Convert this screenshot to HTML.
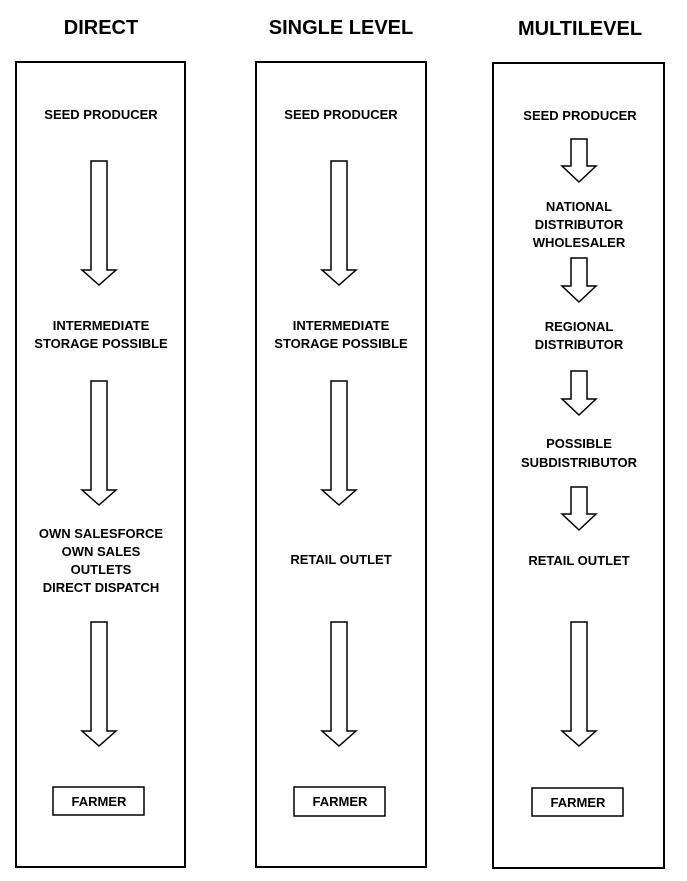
<!DOCTYPE html>
<html><head><style>
html,body{margin:0;padding:0;background:#fff;}
svg{display:block}
text{font-family:"Liberation Sans",Arial,sans-serif;font-weight:bold;fill:#000;text-anchor:middle}
.t{font-size:20px}
.l{font-size:13px}
</style></head><body>
<svg width="687" height="881" viewBox="0 0 687 881" xmlns="http://www.w3.org/2000/svg">
<g fill="none" stroke="#000" stroke-width="2">
<rect x="16" y="62" width="169" height="805"/>
<rect x="256" y="62" width="170" height="805"/>
<rect x="493" y="63" width="171" height="805"/>
</g>
<text class="t" x="101" y="34">DIRECT</text>
<text class="t" x="341" y="34">SINGLE LEVEL</text>
<text class="t" x="580" y="35">MULTILEVEL</text>

<g fill="#fff" stroke="#000" stroke-width="1.5">
<!-- direct -->
<path d="M91 161 H107 V270 H116 L99 285 L82 270 H91 Z"/>
<path d="M91 381 H107 V490 H116 L99 505 L82 490 H91 Z"/>
<path d="M91 622 H107 V731 H116 L99 746 L82 731 H91 Z"/>
<!-- single -->
<path d="M331 161 H347 V270 H356 L339 285 L322 270 H331 Z"/>
<path d="M331 381 H347 V490 H356 L339 505 L322 490 H331 Z"/>
<path d="M331 622 H347 V731 H356 L339 746 L322 731 H331 Z"/>
<!-- multi -->
<path d="M571 139 H587 V166 H596 L579 182 L562 166 H571 Z"/>
<path d="M571 258 H587 V286 H596 L579 302 L562 286 H571 Z"/>
<path d="M571 371 H587 V399 H596 L579 415 L562 399 H571 Z"/>
<path d="M571 487 H587 V514 H596 L579 530 L562 514 H571 Z"/>
<path d="M571 622 H587 V731 H596 L579 746 L562 731 H571 Z"/>
<!-- farmer boxes -->
<rect x="53" y="787" width="91" height="28"/>
<rect x="294" y="787" width="91" height="29"/>
<rect x="532" y="788" width="91" height="28"/>
</g>

<g class="l">
<text class="l" x="101" y="119">SEED PRODUCER</text>
<text class="l" x="101" y="330">INTERMEDIATE</text>
<text class="l" x="101" y="348">STORAGE POSSIBLE</text>
<text class="l" x="101" y="538">OWN SALESFORCE</text>
<text class="l" x="101" y="556">OWN SALES</text>
<text class="l" x="101" y="574">OUTLETS</text>
<text class="l" x="101" y="592">DIRECT DISPATCH</text>
<text class="l" x="99" y="806">FARMER</text>

<text class="l" x="341" y="119">SEED PRODUCER</text>
<text class="l" x="341" y="330">INTERMEDIATE</text>
<text class="l" x="341" y="348">STORAGE POSSIBLE</text>
<text class="l" x="341" y="564">RETAIL OUTLET</text>
<text class="l" x="340" y="806">FARMER</text>

<text class="l" x="580" y="120">SEED PRODUCER</text>
<text class="l" x="579" y="211">NATIONAL</text>
<text class="l" x="579" y="229">DISTRIBUTOR</text>
<text class="l" x="579" y="247">WHOLESALER</text>
<text class="l" x="579" y="331">REGIONAL</text>
<text class="l" x="579" y="349">DISTRIBUTOR</text>
<text class="l" x="579" y="448">POSSIBLE</text>
<text class="l" x="579" y="467">SUBDISTRIBUTOR</text>
<text class="l" x="579" y="565">RETAIL OUTLET</text>
<text class="l" x="578" y="807">FARMER</text>
</g>
</svg>
</body></html>
